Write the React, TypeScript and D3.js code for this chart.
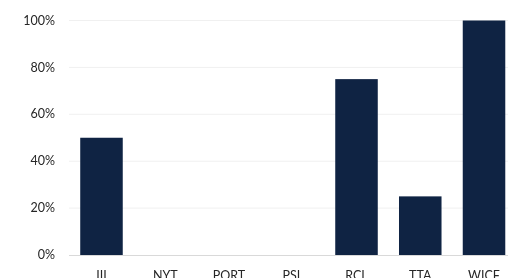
import * as d3 from "d3";
import React, { useEffect, useRef } from "react";

const categories = ["III", "NYT", "PORT", "PSL", "RCL", "TTA", "WICF"];
const values = [50, 0, 0, 0, 75, 25, 100];
const yTicks = [0, 20, 40, 60, 80, 100];

const width = 508;
const height = 278;

export default function App() {
  const ref = useRef<SVGSVGElement | null>(null);

  useEffect(() => {
    const svg = d3.select(ref.current);
    svg.selectAll("*").remove();

    const x = d3
      .scaleBand()
      .domain(categories)
      .range([69.6, 515.9])
      .paddingInner(0.333)
      .paddingOuter(0.1667);

    const y = d3.scaleLinear().domain([0, 100]).range([255, 20.5]);

    // gridlines
    svg
      .append("g")
      .selectAll("line")
      .data(yTicks.filter((d) => d > 0))
      .enter()
      .append("line")
      .attr("x1", 69)
      .attr("x2", width)
      .attr("y1", (d) => y(d))
      .attr("y2", (d) => y(d))
      .attr("stroke", "#f0f0f0")
      .attr("stroke-width", 1);

    // y labels
    svg
      .append("g")
      .selectAll("text")
      .data(yTicks)
      .enter()
      .append("text")
      .attr("x", 55)
      .attr("y", (d) => y(d))
      .attr("dy", "0.33em")
      .attr("text-anchor", "end")
      .attr("font-family", "Lato, 'Open Sans', sans-serif")
      .attr("font-size", "12.5px")
      .attr("fill", "#262626")
      .text((d) => d + "%");

    // bars
    svg
      .append("g")
      .selectAll("rect")
      .data(values)
      .enter()
      .append("rect")
      .attr("x", (d, i) => x(categories[i]) as number)
      .attr("y", (d) => y(d))
      .attr("width", x.bandwidth())
      .attr("height", (d) => y(0) - y(d))
      .attr("fill", "#0f2343");

    // baseline
    svg
      .append("line")
      .attr("x1", 69)
      .attr("x2", width)
      .attr("y1", y(0) + 0.5)
      .attr("y2", y(0) + 0.5)
      .attr("stroke", "#d9d9d9")
      .attr("stroke-width", 1);

    // x labels
    svg
      .append("g")
      .selectAll("text")
      .data(categories)
      .enter()
      .append("text")
      .attr("x", (d) => (x(d) as number) + x.bandwidth() / 2)
      .attr("y", 280)
      .attr("text-anchor", "middle")
      .attr("font-family", "Lato, 'Open Sans', sans-serif")
      .attr("font-size", "12.5px")
      .attr("fill", "#262626")
      .text((d) => d);
  }, []);

  return (
    <div style={{ position: "fixed", left: 0, top: 0 }}>
      <svg ref={ref} width={width} height={height} style={{ display: "block" }} />
    </div>
  );
}
